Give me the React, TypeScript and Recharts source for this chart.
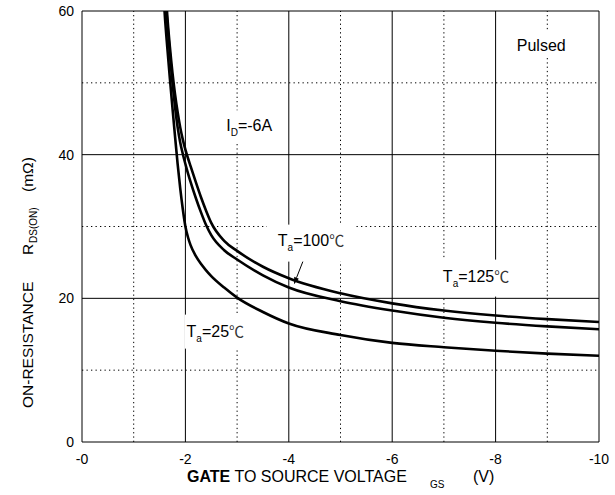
import {
  Label,
  Line,
  LineChart,
  ReferenceDot,
  ReferenceLine,
  XAxis,
  YAxis,
} from "recharts";

// gate-source voltage (V) shared by the three curves
const voltage = [
  -1.55, -1.6, -1.65, -1.7, -1.75, -1.8, -1.85, -1.9, -1.95, -2, -2.05, -2.1, -2.2,
  -2.3, -2.4, -2.5, -2.75, -3, -3.5, -4, -5, -6, -7, -8, -9, -10,
];
// RDS(on) in mOhm
const rds25 = [
  66, 59.6, 54.9, 50.6, 46.5, 42.5, 38.7, 35.3, 32.4, 30.0, 28.5, 27.4, 25.9,
  24.8, 23.9, 23.1, 21.5, 20.1, 18.1, 16.5, 14.9, 13.8, 13.2, 12.7, 12.3, 12.0,
];
const rds100 = [
  70, 63.5, 58.4, 54.0, 50.0, 46.6, 43.8, 41.7, 40.1, 38.7, 37.4, 36.2, 34.0,
  32.0, 30.2, 28.8, 26.7, 25.4, 23.2, 21.5, 19.6, 18.3, 17.3, 16.6, 16.1, 15.7,
];
const rds125 = [
  72, 65.0, 59.3, 55.0, 51.4, 48.4, 45.9, 43.8, 42.1, 40.7, 39.5, 38.4, 36.2,
  34.1, 32.2, 30.5, 28.0, 26.6, 24.4, 22.8, 20.7, 19.3, 18.3, 17.6, 17.1, 16.7,
];

const xTicks = [0, -2, -4, -6, -8, -10];
const yTicks = [0, 20, 40, 60];
const xMajor = [-2, -4, -6, -8, -10];
const xMinor = [-1, -3, -5, -7, -9];
const yMajor = [20, 40, 60];
const yMinor = [10, 30, 50];

const data = voltage.map((v, i) => ({
  v,
  t25: rds25[i],
  t100: rds100[i],
  t125: rds125[i],
}));

const FONT = "Arial, 'Liberation Sans', Helvetica, sans-serif";
const DEG = "'Noto Sans CJK SC', 'DejaVu Sans', sans-serif";

type Box = [number, number, number, number];

const tag = (box: Box, content: React.ReactNode) => (p: any) => (
  <g>
    <rect x={p.cx + box[0]} y={p.cy + box[1]} width={box[2]} height={box[3]} fill="#fff" />
    <text x={p.cx} y={p.cy} fontFamily={FONT} fontSize={16} fill="#000">
      {content}
    </text>
  </g>
);

const taText = (temp: string) => (
  <>
    <tspan>T</tspan>
    <tspan fontSize={10} dy={5}>a</tspan>
    <tspan dy={-5}>={temp}</tspan>
    <tspan fontFamily={DEG} fontSize={15} fill="#333">℃</tspan>
  </>
);

const arrow = (p: any) => {
  const { x1, y1, x2, y2 } = p;
  const ang = Math.atan2(y2 - y1, x2 - x1);
  const len = 7;
  const w = 2.5;
  const bx = x2 - len * Math.cos(ang);
  const by = y2 - len * Math.sin(ang);
  const px = -Math.sin(ang) * w;
  const py = Math.cos(ang) * w;
  return (
    <g>
      <line x1={x1} y1={y1} x2={bx} y2={by} stroke="#000" strokeWidth={1} />
      <polygon points={`${x2},${y2} ${bx + px},${by + py} ${bx - px},${by - py}`} fill="#000" />
    </g>
  );
};

export default function App() {
  return (
    <div style={{ position: "absolute", left: 0, top: 0, width: 615, height: 495, background: "#fff" }}>
      <LineChart
        width={615}
        height={495}
        data={data}
        margin={{ top: 11, right: 16, left: 0, bottom: 0 }}
      >
        <XAxis
          dataKey="v"
          type="number"
          domain={[-10, 0]}
          reversed
          ticks={xTicks}
          tickFormatter={(v: number) => (v === 0 ? "-0" : String(v))}
          tick={{ fill: "#000", fontSize: 14, fontFamily: FONT }}
          tickLine={false}
          tickMargin={6}
          axisLine={{ stroke: "#000" }}
          height={53}
          allowDataOverflow
        >
          <Label
            content={() => (
              <g fontFamily={FONT} fill="#000">
                <text x={187} y={482} fontSize={16}>
                  <tspan fontWeight="bold">GATE</tspan>
                  <tspan> TO SOURCE VOLTAGE</tspan>
                </text>
                <text x={430} y={488} fontSize={10}>GS</text>
                <text x={473} y={482} fontSize={16}>(V)</text>
              </g>
            )}
          />
        </XAxis>
        <YAxis
          type="number"
          domain={[0, 60]}
          ticks={yTicks}
          tick={{ fill: "#000", fontSize: 14, fontFamily: FONT }}
          tickLine={false}
          axisLine={{ stroke: "#000" }}
          width={82}
          allowDataOverflow
        >
          <Label
            content={() => (
              <text
                transform="translate(33,408) rotate(-90)"
                fontFamily={FONT}
                fontSize={15.5}
                fill="#000"
              >
                <tspan x={0} y={0}>ON-RESISTANCE</tspan>
                <tspan x={153} y={0}>R</tspan>
                <tspan x={165} y={4} fontSize={10}>DS(ON)</tspan>
                <tspan x={216} y={0}>(mΩ)</tspan>
              </text>
            )}
          />
        </YAxis>

        {xMinor.map((x) => (
          <ReferenceLine key={`xm${x}`} x={x} stroke="#000" strokeDasharray="1.3 3" />
        ))}
        {yMinor.map((y) => (
          <ReferenceLine key={`ym${y}`} y={y} stroke="#000" strokeDasharray="1.3 3.2" />
        ))}
        {xMajor.map((x) => (
          <ReferenceLine key={`xM${x}`} x={x} stroke="#000" />
        ))}
        {yMajor.map((y) => (
          <ReferenceLine key={`yM${y}`} y={y} stroke="#000" />
        ))}

        <Line dataKey="t25" type="monotone" stroke="#000" strokeWidth={2.6} dot={false} isAnimationActive={false} />
        <Line dataKey="t100" type="monotone" stroke="#000" strokeWidth={2.6} dot={false} isAnimationActive={false} />
        <Line dataKey="t125" type="monotone" stroke="#000" strokeWidth={2.6} dot={false} isAnimationActive={false} />

        <ReferenceDot x={-8.41} y={54.46} shape={tag([-2, -19, 53, 25], "Pulsed")} />
        <ReferenceDot
          x={-2.79}
          y={43.25}
          shape={tag([-3, -21, 49, 33], (
            <>
              <tspan>I</tspan>
              <tspan fontSize={10} dy={5}>D</tspan>
              <tspan dy={-5}>=-6A</tspan>
            </>
          ))}
        />
        <ReferenceDot x={-3.787} y={27.34} shape={tag([-11, -21, 88, 37], taText("100"))} />
        <ReferenceDot x={-2.023} y={14.67} shape={tag([-2, -22, 60, 34], taText("25"))} />
        <ReferenceDot x={-6.98} y={22.33} shape={tag([-6, -22, 68, 37], taText("125"))} />
        <ReferenceLine
          segment={[
            { x: -4.32, y: 26.0 },
            { x: -4.1, y: 21.96 },
          ]}
          shape={arrow}
        />
      </LineChart>
    </div>
  );
}
